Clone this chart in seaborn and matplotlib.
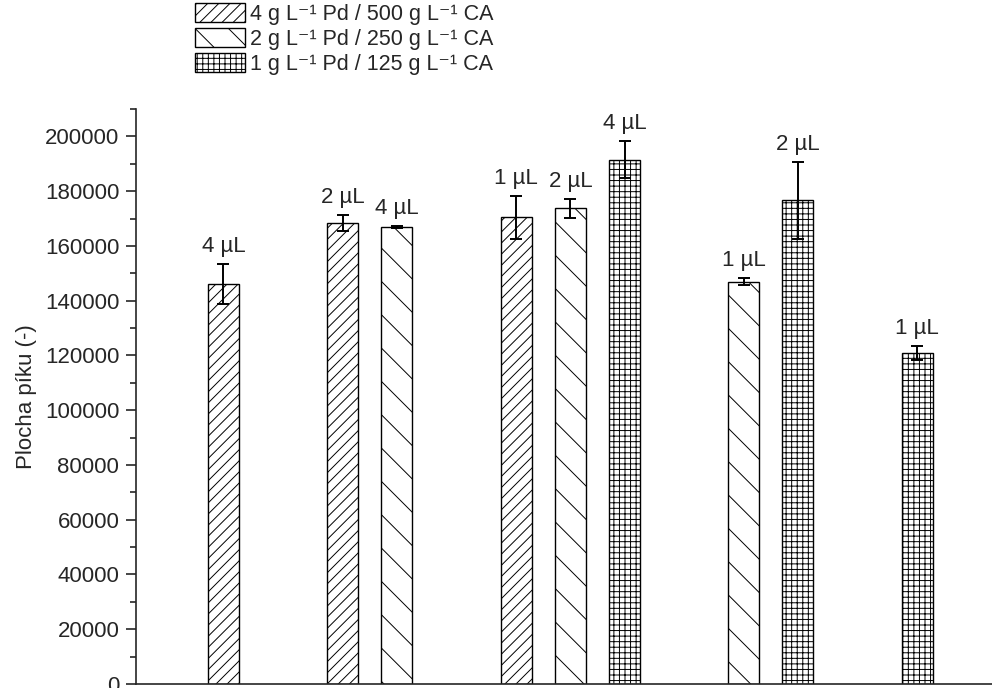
import numpy as np
import pandas as pd
import matplotlib
matplotlib.use("Agg")
import matplotlib.pyplot as plt
from matplotlib.patches import Patch
from matplotlib.ticker import MultipleLocator
import seaborn as sns

# bar data (left to right)
series = ["A", "A", "B", "A", "B", "C", "B", "C", "C"]
group = [0, 1, 1, 2, 2, 2, 3, 3, 4]
volumes = ["4 µL", "2 µL", "4 µL", "1 µL", "2 µL", "4 µL", "1 µL", "2 µL", "1 µL"]
values = [146000, 168500, 166900, 170400, 173700, 191500, 147000, 176600, 120800]
errors = [7300, 2900, 500, 7700, 3400, 6700, 1200, 14100, 2500]

series_labels = {
    "A": "4 g L⁻¹ Pd / 500 g L⁻¹ CA",
    "B": "2 g L⁻¹ Pd / 250 g L⁻¹ CA",
    "C": "1 g L⁻¹ Pd / 125 g L⁻¹ CA",
}
hatches = {"A": "///", "B": "\\", "C": "+++"}

# bars sit one slot apart inside a group, with an extra gap between groups
gap = 1.2
pos = [i + gap * g for i, g in enumerate(group)]

df = pd.DataFrame({"pos": pos, "value": values, "err": errors,
                   "series": series, "vol": volumes})

sns.set_style("ticks")
plt.rcParams["font.family"] = ["Liberation Sans", "DejaVu Sans"]
plt.rcParams["hatch.linewidth"] = 0.7

fs = 16

fig = plt.figure(figsize=(9.92, 6.88), dpi=100)
ax = fig.add_axes([136 / 992, 4 / 688, 856 / 992, 575 / 688])

sns.barplot(data=df, x="pos", y="value", hue="series", native_scale=True,
            dodge=False, width=0.572, errorbar=None, legend=False,
            palette={"A": "white", "B": "white", "C": "white"},
            edgecolor="black", linewidth=1.0, ax=ax)

for p in ax.patches:
    cx = p.get_x() + p.get_width() / 2
    row = df.iloc[(df["pos"] - cx).abs().argmin()]
    p.set_hatch(hatches[row["series"]])
    p.set_facecolor("white")

ax.errorbar(df["pos"], df["value"], yerr=df["err"], fmt="none",
            ecolor="black", elinewidth=1.4, capsize=4.5, capthick=1.4)

for _, r in df.iterrows():
    ax.annotate(r["vol"], (r["pos"], r["value"] + r["err"]),
                xytext=(0, 5), textcoords="offset points",
                ha="center", va="bottom", fontsize=fs)

ax.set_xlim(-1.614, 14.18)
ax.set_ylim(0, 210000)
ax.yaxis.set_major_locator(MultipleLocator(20000))
ax.yaxis.set_minor_locator(MultipleLocator(10000))
ax.tick_params(axis="y", which="major", length=7, width=1.2, labelsize=fs, pad=5)
ax.tick_params(axis="y", which="minor", length=4, width=1.2)
ax.set_xticks([])
ax.set_xlabel("")
ax.set_ylabel("Plocha píku (-)", fontsize=fs, labelpad=6)
sns.despine(ax=ax)
ax.spines["left"].set_linewidth(1.2)
ax.spines["bottom"].set_linewidth(1.2)

handles = [Patch(facecolor="white", edgecolor="black", hatch=hatches[k],
                 label=series_labels[k]) for k in ["A", "B", "C"]]
fig.legend(handles=handles, loc="upper left", bbox_to_anchor=(195 / 992, 1 - 3 / 688),
           frameon=False, fontsize=15.5, handlelength=2.3, handleheight=0.95,
           handletextpad=0.25, labelspacing=0.16, borderpad=0, borderaxespad=0)

fig.savefig("out.png", dpi=100)
